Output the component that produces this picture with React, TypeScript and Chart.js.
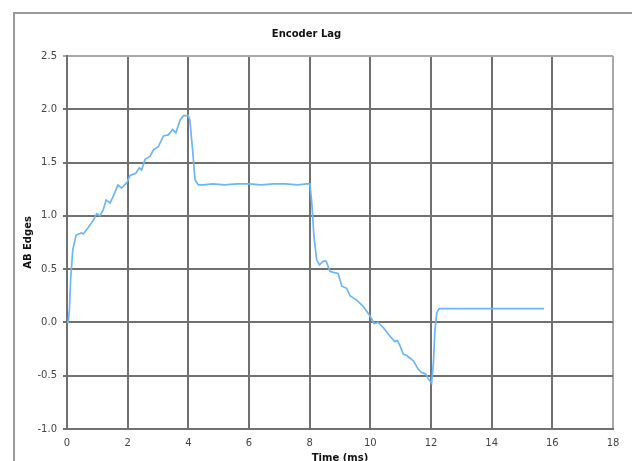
import React, { useEffect, useRef } from "react";
import { Chart, registerables } from "chart.js";

Chart.register(...registerables);

const chartTitle = "Encoder Lag";
const xTitle = "Time (ms)";
const yTitle = "AB Edges";

const timeMs: number[] = [
  0.0, 0.04, 0.08, 0.12, 0.19, 0.3, 0.48, 0.54, 0.7, 0.87, 0.98, 1.09, 1.2, 1.29, 1.42, 1.52,
  1.68, 1.8, 1.97, 2.08, 2.27, 2.38, 2.46, 2.57, 2.74, 2.85, 3.01, 3.18, 3.34, 3.48, 3.59,
  3.73, 3.84, 4.0, 4.05, 4.14, 4.22, 4.33, 4.5, 4.8, 5.2, 5.6, 6.0, 6.4, 6.8, 7.2, 7.6, 7.9,
  8.01, 8.07, 8.14, 8.23, 8.32, 8.45, 8.54, 8.67, 8.78, 8.94, 9.06, 9.22, 9.33, 9.55, 9.77,
  9.99, 10.12, 10.26, 10.43, 10.65, 10.81, 10.89, 10.98, 11.09, 11.2, 11.42, 11.58, 11.69,
  11.8, 11.86, 11.91, 12.02, 12.08, 12.13, 12.19, 12.27, 13.0, 14.0, 15.0, 15.73,
];

const abEdges: number[] = [
  0.0, 0.0, 0.12, 0.4, 0.68, 0.82, 0.84, 0.83, 0.89, 0.96, 1.02, 1.0, 1.06, 1.15, 1.12, 1.18,
  1.29, 1.26, 1.31, 1.38, 1.4, 1.45, 1.43, 1.53, 1.56, 1.62, 1.65, 1.75, 1.76, 1.81, 1.78,
  1.9, 1.94, 1.94, 1.9, 1.62, 1.34, 1.29, 1.29, 1.3, 1.29, 1.3, 1.3, 1.29, 1.3, 1.3, 1.29, 1.3,
  1.3, 1.12, 0.81, 0.59, 0.54, 0.575, 0.575, 0.48, 0.47, 0.46, 0.34, 0.32, 0.25, 0.21, 0.15,
  0.06, -0.01, 0.0, -0.05, -0.13, -0.18, -0.17, -0.22, -0.3, -0.31, -0.36, -0.44, -0.47,
  -0.48, -0.5, -0.53, -0.57, -0.38, -0.07, 0.09, 0.13, 0.13, 0.13, 0.13, 0.13,
];

const yMin = -1.0;
const yMax = 2.5;
const yStep = 0.5;
const xMin = 0;
const xMax = 18;
const xStep = 2;

export default function App() {
  const canvasRef = useRef<HTMLCanvasElement | null>(null);

  useEffect(() => {
    if (!canvasRef.current) return;
    const points = timeMs.map((t, i) => ({ x: t, y: abEdges[i] }));
    const tickFont = { family: "'DejaVu Sans', sans-serif", size: 10 };
    const boldFont = { family: "'DejaVu Sans', sans-serif", size: 10, weight: "bold" as const };
    const chart = new Chart(canvasRef.current, {
      type: "line",
      data: {
        datasets: [
          {
            data: points,
            borderColor: "#6cb6f5",
            borderWidth: 1.7,
            pointRadius: 0,
            tension: 0,
            fill: false,
          },
        ],
      },
      options: {
        animation: false,
        responsive: true,
        maintainAspectRatio: false,
        layout: { padding: { left: 0, right: 19, top: 0, bottom: 0 } },
        plugins: {
          legend: { display: false },
          tooltip: { enabled: false },
          title: {
            display: true,
            text: chartTitle,
            color: "#111",
            font: { family: "'DejaVu Sans', sans-serif", size: 10, weight: "bold" },
            padding: { top: 28, bottom: 16 },
          },
        },
        scales: {
          x: {
            type: "linear",
            min: xMin,
            max: xMax,
            afterFit: (scale: any) => {
              scale.height = 32;
            },
            ticks: {
              stepSize: xStep,
              color: "#444",
              font: tickFont,
              padding: 8,
              maxRotation: 0,
              callback: (v: any) => String(v),
            },
            grid: {
              drawTicks: false,
              lineWidth: 2,
              color: (ctx: any) => (ctx.tick && ctx.tick.value === xMax ? "#a8a8a8" : "#707070"),
            },
            border: { color: "#707070", width: 2 },
            title: {
              display: true,
              text: xTitle,
              color: "#111",
              font: boldFont,
              padding: { top: 0, bottom: -3 },
            },
          },
          y: {
            type: "linear",
            min: yMin,
            max: yMax,
            afterFit: (scale: any) => {
              scale.width = 67;
            },
            ticks: {
              stepSize: yStep,
              color: "#444",
              font: tickFont,
              padding: 6,
              callback: (v: any) => Number(v).toFixed(1),
            },
            grid: {
              tickLength: 4,
              lineWidth: 2,
              color: (ctx: any) => (ctx.tick && ctx.tick.value === yMax ? "#a8a8a8" : "#707070"),
            },
            border: { color: "#707070", width: 2 },
            title: {
              display: true,
              text: yTitle,
              color: "#111",
              font: boldFont,
              padding: { top: 22, bottom: 0 },
            },
          },
        },
      },
    });
    return () => chart.destroy();
  }, []);

  return (
    <div
      style={{
        position: "fixed",
        left: 0,
        top: 0,
        width: 632,
        height: 461,
        background: "#fff",
        overflow: "hidden",
      }}
    >
      <div
        style={{
          position: "absolute",
          left: 13,
          top: 12,
          width: 700,
          height: 600,
          border: "2px solid #9a9a9a",
          boxSizing: "border-box",
        }}
      />
      <div style={{ position: "absolute", left: 0, top: 0, width: 632, height: 461 }}>
        <canvas ref={canvasRef} />
      </div>
    </div>
  );
}
